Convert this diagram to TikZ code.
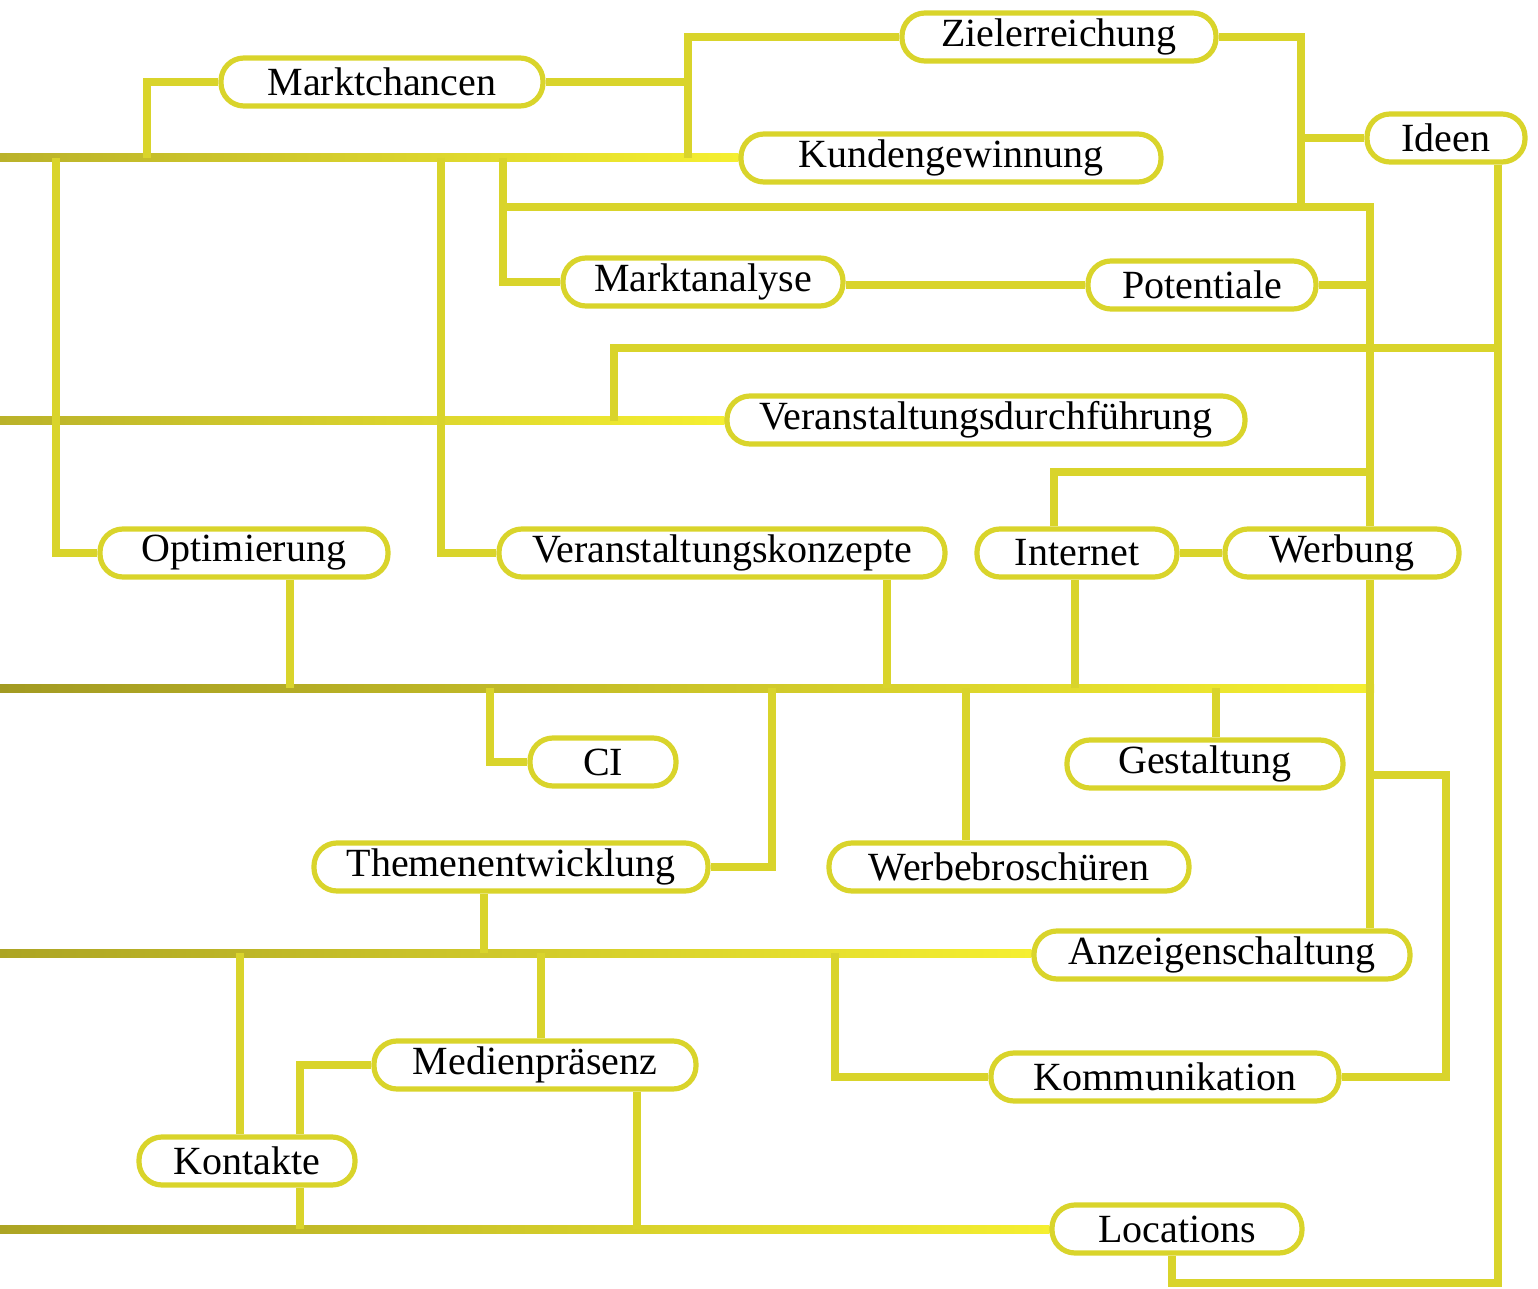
\documentclass[tikz,border=0pt]{standalone}
\usepackage{fontspec}
\setmainfont{Liberation Serif}
\usetikzlibrary{backgrounds}
\definecolor{lineY}{HTML}{D9D42B}
\definecolor{busR}{HTML}{F5EF30}
\definecolor{busL1}{HTML}{BAB22A}
\definecolor{busL2}{HTML}{A29A22}
\definecolor{busL3}{HTML}{ACA424}
\begin{document}
\begin{tikzpicture}[x=0.5pt,y=-0.5pt,
  box/.style={draw=lineY, line width=2.6pt, fill=white, rounded corners=11.5pt,
    minimum height=24pt, inner sep=0pt, font=\fontsize{20}{24}\selectfont},
  conn/.style={draw=lineY, line width=3.7pt, line join=miter},
  bus/.style={right color=busR, draw=none}]
\useasboundingbox (0,0) rectangle (1538,1289);
% nodes
\node[box, minimum width=157pt] (ziel) at (1059,37) {Zielerreichung};
\node[box, minimum width=161pt] (markt) at (382,82) {Marktchancen};
\node[box, minimum width=79pt] (ideen) at (1446,138) {Ideen};
\node[box, minimum width=210pt] (kund) at (951,158) {Kundengewinnung};
\node[box, minimum width=140pt] (manal) at (703,282) {Marktanalyse};
\node[box, minimum width=114pt] (pot) at (1202,285) {Potentiale};
\node[box, minimum width=259pt] (vdurch) at (986,420) {Veranstaltungsdurchführung};
\node[box, minimum width=144pt] (opt) at (244,553) {Optimierung};
\node[box, minimum width=223pt] (vkonz) at (722,553) {Veranstaltungskonzepte};
\node[box, minimum width=100pt] (inet) at (1077,553) {Internet};
\node[box, minimum width=117pt] (werb) at (1342,553) {Werbung};
\node[box, minimum width=73pt] (ci) at (603,762) {CI};
\node[box, minimum width=138pt] (gest) at (1205,764) {Gestaltung};
\node[box, minimum width=197pt] (themen) at (511,867) {Themenentwicklung};
\node[box, minimum width=180pt] (wbr) at (1009,867) {Werbebroschüren};
\node[box, minimum width=188pt] (anz) at (1222,955) {Anzeigenschaltung};
\node[box, minimum width=161pt] (med) at (535,1065) {Medienpräsenz};
\node[box, minimum width=174pt] (kom) at (1165,1077) {Kommunikation};
\node[box, minimum width=108pt] (kont) at (247,1161) {Kontakte};
\node[box, minimum width=125pt] (loc) at (1177,1229) {Locations};
% junction coordinates
\coordinate (cEnd) at (1374,688);
\begin{pgfonlayer}{background}
% gradient buses
\shade[bus, left color=busL1] (0,154) rectangle (kund.west |- 0,162);
\shade[bus, left color=busL1] (0,417) rectangle (vdurch.west |- 0,425);
\shade[bus, left color=busL2] (0,684) rectangle (cEnd |- 0,692);
\shade[bus, left color=busL3] (0,949) rectangle (anz.west |- 0,957);
\shade[bus, left color=busL3] (0,1225) rectangle (loc.west |- 0,1233);
% top area
\draw[conn] (markt.west) -| (147,158);
\draw[conn] (ziel.west) -| (688,158);
\draw[conn] (markt.east) -- (688,0 |- markt.east);
\draw[conn] (ziel.east) -| (1301,207);
\draw[conn] (ideen.west) -- (1301,0 |- ideen.west);
\draw[conn] (503,158) |- (manal.west);
\draw[conn] (503,207) -- (1370,207) -- (1370,0 |- werb.north);
\draw[conn] (pot.west -| manal.east) -- (pot.west);
\draw[conn] (pot.east) -- (1370,0 |- pot.east);
\draw[conn] (614,421) |- (1498,348);
\draw[conn] (1498,0 |- ideen.south) -- (1498,1283) -| (1172,0 |- loc.south);
\draw[conn] (56,158) |- (opt.west);
\draw[conn] (441,158) |- (vkonz.west);
\draw[conn] (1054,0 |- inet.north) |- (1370,472);
\draw[conn] (inet.east) -- (werb.west);
% middle
\draw[conn] (290,0 |- opt.south) -- (290,688);
\draw[conn] (887,0 |- vkonz.south) -- (887,688);
\draw[conn] (1075,0 |- inet.south) -- (1075,688);
\draw[conn] (1370,0 |- werb.south) -- (1370,0 |- anz.north);
\draw[conn] (490,688) |- (ci.west);
\draw[conn] (772,688) |- (themen.east);
\draw[conn] (966,688) -- (966,0 |- wbr.north);
\draw[conn] (1216,688) -- (1216,0 |- gest.north);
\draw[conn] (1370,775) -| (1446,0 |- kom.east) -- (kom.east);
% bottom
\draw[conn] (484,0 |- themen.south) -- (484,953);
\draw[conn] (240,953) -- (240,0 |- kont.north);
\draw[conn] (541,953) -- (541,0 |- med.north);
\draw[conn] (835,953) |- (kom.west);
\draw[conn] (med.west) -| (300,0 |- kont.north);
\draw[conn] (300,0 |- kont.south) -- (300,1229);
\draw[conn] (637,0 |- med.south) -- (637,1229);
\end{pgfonlayer}
\end{tikzpicture}
\end{document}
